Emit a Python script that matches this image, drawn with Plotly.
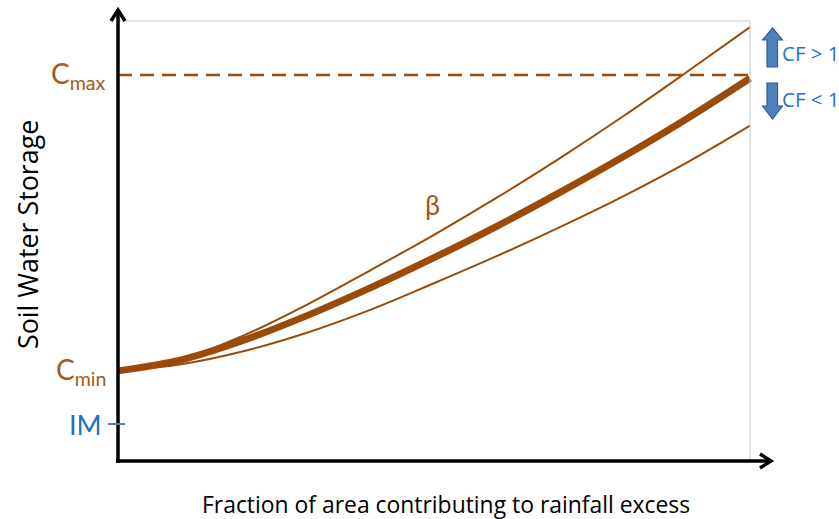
import plotly.graph_objects as go

# Fraction of contributing area (x) and soil water storage (y, normalised)
fraction = [0.0, 0.1, 0.2, 0.3, 0.4, 0.5, 0.6, 0.7, 0.8, 0.9, 1.0]
storage_beta = [0.205, 0.230, 0.275, 0.331, 0.394, 0.462, 0.534, 0.611, 0.692, 0.778, 0.870]
storage_cf_high = [0.205, 0.231, 0.286, 0.356, 0.434, 0.514, 0.599, 0.689, 0.784, 0.884, 0.986]
storage_cf_low = [0.205, 0.220, 0.250, 0.292, 0.344, 0.404, 0.466, 0.532, 0.602, 0.678, 0.762]

c_max = 0.877
c_min = 0.205
im_level = 0.084

W, H = 839, 519
LEFT, RIGHT_EDGE, TOP, BOTTOM = 118, 770, 21, 461
BOX_RIGHT = 750
x_span = (RIGHT_EDGE - LEFT) / (BOX_RIGHT - LEFT)

BROWN = "#9a4a09"
LABEL_BROWN = "#a5581c"
BLUE_TEXT = "#1f74c4"
FONT = "Lato, 'Open Sans', sans-serif"
TITLE_FONT = "'Open Sans', Lato, sans-serif"


def px(x, y):
    """pixel position -> paper coordinates"""
    return (x - LEFT) / (RIGHT_EDGE - LEFT), (BOTTOM - y) / (BOTTOM - TOP)


fig = go.Figure()
for ys, w in [(storage_cf_high, 2), (storage_cf_low, 2), (storage_beta, 7)]:
    fig.add_trace(go.Scatter(x=fraction, y=ys, mode="lines",
                             line=dict(color=BROWN, width=w, shape="spline", smoothing=1.0),
                             hoverinfo="skip", showlegend=False))

shapes = []


def line_px(x0, y0, x1, y1, color, width, dash=None):
    a = px(x0, y0)
    b = px(x1, y1)
    d = dict(type="line", xref="paper", yref="paper", x0=a[0], y0=a[1], x1=b[0], y1=b[1],
             line=dict(color=color, width=width))
    if dash:
        d["line"]["dash"] = dash
    shapes.append(d)


def path_px(points, fill, color, width, closed=True):
    pts = [px(x, y) for x, y in points]
    p = "M " + " L ".join(f"{a:.5f},{b:.5f}" for a, b in pts) + (" Z" if closed else "")
    shapes.append(dict(type="path", xref="paper", yref="paper", path=p,
                       fillcolor=fill, line=dict(color=color, width=width)))


# light frame
line_px(120, 21, BOX_RIGHT, 21, "#c8c8c8", 1)
line_px(BOX_RIGHT, 21, BOX_RIGHT, 461, "#c8c8c8", 1)

# Cmax dashed level across the plot
shapes.append(dict(type="line", xref="paper", yref="y", x0=0, x1=px(755, 0)[0],
                   y0=c_max, y1=c_max, line=dict(color=BROWN, width=2.5, dash="14px,8px")))

# axes with open arrowheads
line_px(118, 463, 118, 11, "black", 3.5)
path_px([(111, 21), (118, 10), (125, 21)], "rgba(0,0,0,0)", "black", 3.5, closed=False)
line_px(116, 461, 769, 461, "black", 3.5)
path_px([(760, 454), (771, 461), (760, 468)], "rgba(0,0,0,0)", "black", 3.5, closed=False)

# IM tick
shapes.append(dict(type="line", xref="paper", yref="y", x0=px(108, 0)[0], x1=px(125, 0)[0],
                   y0=im_level, y1=im_level, line=dict(color="#4a7ebb", width=2)))

# CF block arrows
path_px([(772.5, 28), (782.5, 40), (777.5, 40), (777.5, 67), (767, 67), (767, 40), (762.5, 40)],
        "#4f81bd", "#385d8a", 1.2)
path_px([(767, 83), (777.5, 83), (777.5, 106), (782.5, 106), (772.5, 119), (762.5, 106), (767, 106)],
        "#4f81bd", "#385d8a", 1.2)

annotations = []


def text_px(x, y, text, size, color, xanchor="center", angle=0, family=FONT):
    a = px(x, y)
    annotations.append(dict(x=a[0], y=a[1], xref="paper", yref="paper", text=text,
                            showarrow=False, xanchor=xanchor, yanchor="middle",
                            textangle=angle, font=dict(family=family, size=size, color=color)))


annotations.append(dict(x=px(108, 0)[0], y=c_max, xref="paper", yref="y", text="C<sub>max</sub>",
                        showarrow=False, xanchor="right", yanchor="middle",
                        font=dict(family=FONT, size=28, color=LABEL_BROWN)))
annotations.append(dict(x=px(108, 0)[0], y=c_min, xref="paper", yref="y", text="C<sub>min</sub>",
                        showarrow=False, xanchor="right", yanchor="middle",
                        font=dict(family=FONT, size=28, color=LABEL_BROWN)))
annotations.append(dict(x=px(104, 0)[0], y=im_level, xref="paper", yref="y", text="IM",
                        showarrow=False, xanchor="right", yanchor="middle",
                        font=dict(family=FONT, size=27, color=BLUE_TEXT)))
text_px(432, 204, "β", 27, LABEL_BROWN)
text_px(780, 53, "CF > 1", 20.5, BLUE_TEXT, xanchor="left", family=TITLE_FONT)
text_px(780, 99, "CF < 1", 20.5, BLUE_TEXT, xanchor="left", family=TITLE_FONT)
text_px(446, 504, "Fraction of area contributing to rainfall excess", 22.9, "black", family=TITLE_FONT)
text_px(27, 235, "Soil Water Storage", 26.8, "black", angle=-90, family=TITLE_FONT)

fig.update_layout(
    width=W, height=H,
    margin=dict(l=LEFT, r=W - RIGHT_EDGE, t=TOP, b=H - BOTTOM, pad=0),
    paper_bgcolor="white", plot_bgcolor="white",
    xaxis=dict(range=[0, x_span], visible=False, fixedrange=True),
    yaxis=dict(range=[0, 1], visible=False, fixedrange=True),
    shapes=shapes, annotations=annotations,
)

fig.write_html("out.html", config={"displayModeBar": False})
